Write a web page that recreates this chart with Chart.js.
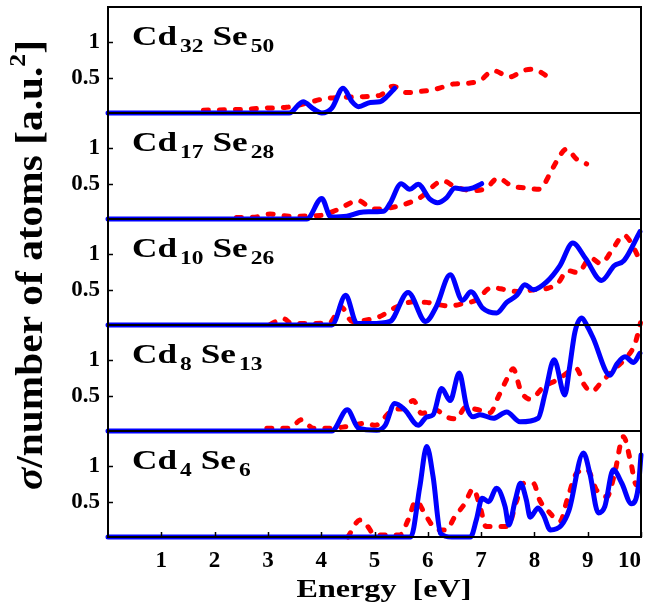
<!DOCTYPE html>
<html>
<head>
<meta charset="utf-8">
<script src="https://cdn.jsdelivr.net/npm/chart.js@4.4.0/dist/chart.umd.min.js"></script>
<style>
html,body{margin:0;padding:0;background:#fff;}
#wrap{width:647px;height:609px;position:relative;}
</style>
</head>
<body>
<div id="wrap"><canvas id="c" width="647" height="609"></canvas></div>
<script>
// ---------- DATA (panels listed top to bottom) ----------
const panelSubs = [['32','50'], ['17','28'], ['10','26'], ['8','13'], ['4','6']];

const xTickValues = [1,2,3,4,5,6,7,8,9,10];
const yTickValues = [0.5, 1];
const yTickLabels = ['0.5', '1'];

// Cd32Se50
const p1BlueE = [0, 3.40, 3.66, 3.85, 4.01, 4.20, 4.41, 4.58, 4.70, 4.92, 5.10, 5.23, 5.38];
const p1BlueS = [0, 0, 0.16, 0.06, 0.00, 0.07, 0.35, 0.16, 0.09, 0.15, 0.16, 0.23, 0.35];
const p1RedE  = [1.79, 2.48, 2.98, 3.35, 3.73, 4.04, 4.35, 4.73, 5.10, 5.35, 5.60, 5.92, 6.16, 6.48, 6.73, 6.98, 7.23, 7.54, 7.79, 7.98, 8.26];
const p1RedS  = [0.04, 0.05, 0.07, 0.08, 0.14, 0.20, 0.22, 0.23, 0.25, 0.38, 0.29, 0.31, 0.34, 0.41, 0.42, 0.46, 0.60, 0.51, 0.60, 0.62, 0.51];

// Cd17Se28
const p2BlueE = [0, 3.73, 4.01, 4.18, 4.48, 4.79, 5.17, 5.29, 5.50, 5.66, 5.82, 6.04, 6.18, 6.35, 6.51, 6.67, 6.85, 7.01];
const p2BlueS = [0, 0, 0.29, 0.03, 0.04, 0.10, 0.11, 0.22, 0.50, 0.42, 0.49, 0.28, 0.23, 0.30, 0.44, 0.42, 0.44, 0.50];
const p2RedE  = [2.41, 2.79, 3.04, 3.41, 3.98, 4.30, 4.70, 4.98, 5.48, 5.85, 6.29, 6.48, 6.85, 7.10, 7.32, 7.57, 7.82, 8.10, 8.29, 8.42, 8.60, 8.79, 8.98];
const p2RedS  = [0.02, 0.03, 0.07, 0.04, 0.05, 0.13, 0.26, 0.14, 0.19, 0.30, 0.54, 0.47, 0.40, 0.44, 0.58, 0.47, 0.44, 0.42, 0.64, 0.82, 0.99, 0.85, 0.78];

// Cd10Se26
const p3BlueE = [0, 4.20, 4.46, 4.67, 4.92, 5.29, 5.63, 5.96, 6.16, 6.42, 6.65, 6.81, 7.03, 7.29, 7.48, 7.67, 7.82, 7.98, 8.23, 8.48, 8.72, 8.96, 9.26, 9.50, 9.68, 9.98];
const p3BlueS = [0, 0, 0.42, 0.02, 0.02, 0.05, 0.46, 0.05, 0.26, 0.71, 0.35, 0.47, 0.24, 0.17, 0.32, 0.42, 0.57, 0.50, 0.61, 0.84, 1.16, 0.94, 0.63, 0.84, 0.91, 1.32];
const p3RedE  = [3.05, 3.29, 3.45, 4.15, 4.38, 4.58, 4.85, 5.10, 5.40, 5.75, 5.98, 6.40, 6.70, 6.90, 7.20, 7.45, 7.72, 8.00, 8.25, 8.45, 8.62, 8.82, 9.05, 9.25, 9.45, 9.68, 9.80, 9.97];
const p3RedS  = [0.01, 0.09, 0.02, 0.03, 0.25, 0.05, 0.07, 0.12, 0.25, 0.33, 0.32, 0.27, 0.31, 0.35, 0.53, 0.50, 0.47, 0.50, 0.52, 0.60, 0.77, 0.74, 0.95, 0.87, 1.05, 1.27, 1.18, 0.93];

// Cd8Se13
const p4BlueE = [0, 4.20, 4.49, 4.70, 5.04, 5.20, 5.38, 5.57, 5.82, 5.98, 6.10, 6.26, 6.42, 6.59, 6.73, 6.85, 6.98, 7.23, 7.48, 7.73, 8.07, 8.20, 8.37, 8.57, 8.66, 8.76, 8.89, 8.98, 9.10, 9.42, 9.55, 9.70, 9.86, 9.98];
const p4BlueS = [0, 0, 0.30, 0.04, 0.01, 0.08, 0.39, 0.30, 0.08, 0.20, 0.23, 0.60, 0.43, 0.82, 0.34, 0.20, 0.23, 0.18, 0.27, 0.13, 0.18, 0.53, 1.01, 0.51, 0.90, 1.40, 1.60, 1.50, 1.32, 0.79, 0.95, 1.05, 0.97, 1.10];
const p4RedE  = [2.98, 3.41, 3.63, 3.85, 4.20, 4.45, 4.85, 5.01, 5.35, 5.54, 5.73, 5.88, 6.14, 6.35, 6.54, 6.70, 6.95, 7.17, 7.32, 7.50, 7.60, 7.75, 7.92, 8.17, 8.42, 8.79, 8.93, 9.07, 9.29, 9.52, 9.74, 9.88, 9.95, 9.99];
const p4RedS  = [0.04, 0.04, 0.16, 0.04, 0.04, 0.06, 0.11, 0.08, 0.30, 0.32, 0.43, 0.25, 0.30, 0.20, 0.17, 0.33, 0.30, 0.26, 0.48, 0.76, 0.88, 0.56, 0.45, 0.62, 0.72, 0.88, 0.66, 0.56, 0.72, 0.89, 1.05, 1.22, 1.40, 1.53];

// Cd4Se6
const p5BlueE = [0, 5.68, 5.85, 5.98, 6.10, 6.24, 6.45, 6.80, 6.91, 7.02, 7.14, 7.29, 7.45, 7.52, 7.64, 7.74, 7.85, 7.92, 8.07, 8.17, 8.30, 8.50, 8.65, 8.92, 9.04, 9.20, 9.32, 9.48, 9.64, 9.82, 9.95, 10.0];
const p5BlueS = [0, 0, 0.71, 1.28, 0.85, 0.05, 0, 0, 0.24, 0.55, 0.50, 0.69, 0.43, 0.17, 0.52, 0.76, 0.52, 0.28, 0.41, 0.31, 0.10, 0.16, 0.38, 1.19, 0.90, 0.34, 0.43, 0.95, 0.76, 0.47, 0.71, 1.16];
const p5RedE  = [4.50, 4.73, 4.85, 5.01, 5.48, 5.63, 5.78, 5.95, 6.10, 6.23, 6.35, 6.50, 6.70, 6.85, 6.99, 7.09, 7.29, 7.50, 7.67, 7.80, 7.98, 8.10, 8.29, 8.48, 8.62, 8.80, 8.99, 9.17, 9.36, 9.50, 9.67, 9.81, 9.91, 10.0];
const p5RedS  = [0.00, 0.24, 0.17, 0.03, 0.03, 0.24, 0.51, 0.32, 0.15, 0.10, 0.10, 0.28, 0.48, 0.68, 0.40, 0.15, 0.15, 0.15, 0.52, 0.76, 0.76, 0.52, 0.34, 0.22, 0.54, 0.91, 0.95, 0.66, 0.57, 0.88, 1.42, 1.05, 0.74, 0.88];

const blueE = [p1BlueE, p2BlueE, p3BlueE, p4BlueE, p5BlueE];
const blueS = [p1BlueS, p2BlueS, p3BlueS, p4BlueS, p5BlueS];
const redE  = [p1RedE, p2RedE, p3RedE, p4RedE, p5RedE];
const redS  = [p1RedS, p2RedS, p3RedS, p4RedS, p5RedS];

// ---------- CHART ----------
const SERIF = '"Times New Roman", "Liberation Serif", Times, "DejaVu Serif", serif';
const panelIds = ['y0','y1','y2','y3','y4'];
const BLUE = '#0000ff', RED = '#ff0000';

function pts(E, S) { return E.map((e, k) => ({x: e, y: S[k]})); }

const datasets = [];
panelIds.forEach((id, i) => {
  datasets.push({
    data: pts(blueE[i], blueS[i]), yAxisID: id, xAxisID: 'x',
    borderColor: BLUE, borderWidth: 5, pointRadius: 0,
    cubicInterpolationMode: 'monotone', borderJoinStyle: 'round', borderCapStyle: 'round',
    clip: false, order: 0
  });
  datasets.push({
    data: pts(redE[i], redS[i]), yAxisID: id, xAxisID: 'x',
    borderColor: RED, borderWidth: 5, pointRadius: 0,
    borderDash: [5, 11], borderCapStyle: 'round',
    cubicInterpolationMode: 'monotone',
    clip: false, order: 1
  });
});

const scales = {
  x: {
    type: 'linear', position: 'bottom', min: 0, max: 10,
    grid: { display: false, drawTicks: false },
    border: { display: false },
    afterBuildTicks: (s) => { s.ticks = [0].concat(xTickValues).map(v => ({value: v})); },
    afterFit: (s) => { s.height = 72; s.paddingLeft = 0; s.paddingRight = 0; },
    ticks: {
      align: 'inner', padding: 10, color: '#000', maxRotation: 0, autoSkip: false,
      font: { family: SERIF, weight: 'bold', size: 23 },
      callback: (v) => (xTickValues.indexOf(v) >= 0 ? String(v) : '')
    }
  }
};
// define bottom panel first (left stacks are laid out in reverse order)
for (let i = panelIds.length - 1; i >= 0; i--) {
  scales[panelIds[i]] = {
    type: 'linear', position: 'left', stack: 'panels', stackWeight: 1,
    min: 0, max: 1.5,
    grid: { display: false, drawTicks: false },
    border: { display: false },
    afterBuildTicks: (s) => { s.ticks = yTickValues.map(v => ({value: v})); },
    afterFit: (s) => { s.width = 108; s.paddingTop = 0; s.paddingBottom = 0; },
    ticks: {
      padding: 8, color: '#000', autoSkip: false,
      font: { family: SERIF, weight: 'bold', size: 23 },
      callback: (v) => yTickLabels[yTickValues.indexOf(v)]
    }
  };
}

function stretchedText(ctx, parts, cx, cy, targetW, rotate) {
  let W = 0;
  parts.forEach(p => { ctx.font = p.f; p.w = ctx.measureText(p.t).width; W += p.w; });
  const k = targetW / W;
  ctx.save();
  ctx.translate(cx, cy);
  if (rotate) ctx.rotate(-Math.PI / 2);
  ctx.scale(k, 1);
  ctx.textBaseline = 'alphabetic';
  ctx.textAlign = 'left';
  let x = -W / 2;
  parts.forEach(p => { ctx.font = p.f; ctx.fillText(p.t, x, p.dy || 0); x += p.w; });
  ctx.restore();
}

const deco = {
  id: 'deco',
  afterDatasetsDraw(chart) {
    const ctx = chart.ctx, a = chart.chartArea;
    ctx.save();
    ctx.strokeStyle = '#000';
    ctx.lineWidth = 2;
    panelIds.forEach(id => {
      const s = chart.scales[id];
      ctx.strokeRect(a.left, s.top, a.right - a.left, s.bottom - s.top);
      ctx.lineWidth = 1.5;
      yTickValues.forEach(v => {
        const py = Math.round(s.getPixelForValue(v)) + 0.5;
        ctx.beginPath(); ctx.moveTo(a.left, py); ctx.lineTo(a.left + 5, py); ctx.stroke();
      });
      ctx.lineWidth = 2;
    });
    const xs = chart.scales.x;
    ctx.lineWidth = 1.5;
    xTickValues.forEach(v => {
      const px = Math.round(xs.getPixelForValue(v)) + 0.5;
      ctx.beginPath(); ctx.moveTo(px, a.bottom); ctx.lineTo(px, a.bottom - 5); ctx.stroke();
    });
    ctx.restore();
  },
  afterDraw(chart) {
    const ctx = chart.ctx, a = chart.chartArea;
    ctx.save();
    ctx.fillStyle = '#000';
    // panel labels
    panelIds.forEach((id, i) => {
      const s = chart.scales[id];
      const big = `bold 27px ${SERIF}`, small = `bold 18px ${SERIF}`;
      ctx.font = big;
      const natural = ctx.measureText('Cd').width;
      const sx = 45 / natural;      // stretch so "Cd" is as wide as in the figure
      ctx.save();
      ctx.translate(a.left + 24, s.top + 38);
      ctx.scale(sx, 1);
      ctx.textBaseline = 'alphabetic';
      let x = 0;
      ctx.font = big; ctx.fillText('Cd', x, 0); x += ctx.measureText('Cd').width + 3 / sx;
      ctx.font = small; ctx.fillText(panelSubs[i][0], x, 7); x += ctx.measureText(panelSubs[i][0]).width + 9 / sx;
      ctx.font = big; ctx.fillText('Se', x, 0); x += ctx.measureText('Se').width + 3 / sx;
      ctx.font = small; ctx.fillText(panelSubs[i][1], x, 7);
      ctx.restore();
    });
    // y title
    const fs = 37;
    stretchedText(ctx, [
      {t: 'σ', f: `italic bold ${fs}px ${SERIF}`},
      {t: '/number of atoms [a.u.', f: `bold ${fs}px ${SERIF}`},
      {t: '2', f: `bold ${Math.round(fs * 0.62)}px ${SERIF}`, dy: -fs * 0.45},
      {t: ']', f: `bold ${fs}px ${SERIF}`}
    ], 42, 265, 450, true);
    // x title
    stretchedText(ctx, [{t: 'Energy  [eV]', f: `bold 26px ${SERIF}`}], 384, 597, 175, false);
    ctx.restore();
  }
};

new Chart(document.getElementById('c'), {
  type: 'line',
  data: { datasets },
  options: {
    responsive: false, animation: false,
    layout: { padding: { left: 0, top: 7, right: 6, bottom: 0 } },
    plugins: { legend: { display: false }, tooltip: { enabled: false } },
    scales
  },
  plugins: [deco]
});
</script>
</body>
</html>
